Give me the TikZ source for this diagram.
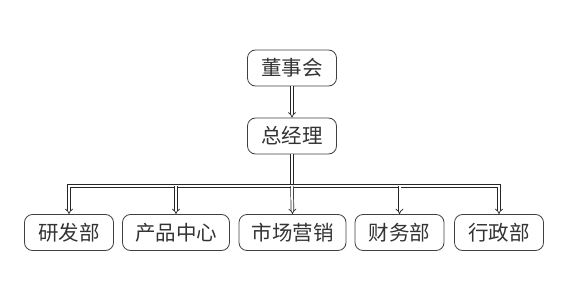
\documentclass[tikz,border=0pt]{standalone}
\usepackage{fontspec}
\newfontfamily\cjk{Noto Sans CJK SC}
\usetikzlibrary{arrows.meta}
\begin{document}
\begin{tikzpicture}[x=1pt,y=-1pt,
  box/.style={draw=black!75, line width=0.8pt, rounded corners=8pt, inner sep=0pt,
    minimum height=36pt, font=\cjk\fontsize{20.5}{20.5}\selectfont, text=black!80},
  box3/.style={box, minimum width=89pt},
  box4/.style={box, minimum width=107pt},
  link/.style={double, double distance=2pt, line width=0.7pt, draw=black!85, -{Implies}}]
\useasboundingbox (0,0) rectangle (569,286);
\node[box3] (dsh) at (292,68) {董事会};
\node[box3] (zjl) at (292,136) {总经理};
\node[box3] (yfb) at (69,232.5) {研发部};
\node[box4] (cpzx) at (176,232.5) {产品中心};
\node[box4] (scyx) at (292.5,232.5) {市场营销};
\node[box3] (cwb) at (399.5,232.5) {财务部};
\node[box3] (xzb) at (499,232.5) {行政部};
\coordinate (jm) at (292,186);
\coordinate (jl) at (69,186);
\coordinate (jr) at (499,186);
\coordinate (j2) at (176,186);
\coordinate (j4) at (399.5,186);
\draw[link] (dsh.south) -- (zjl.north);
\draw[link, -] (zjl.south) -- (jm);
\draw[link, {Implies}-{Implies}] (yfb.north) -- (jl) -- (jr) -- (xzb.north);
\draw[link] (j2) -- (cpzx.north);
\draw[link] (jm) -- (scyx.north);
\draw[link] (j4) -- (cwb.north);
\end{tikzpicture}
\end{document}
